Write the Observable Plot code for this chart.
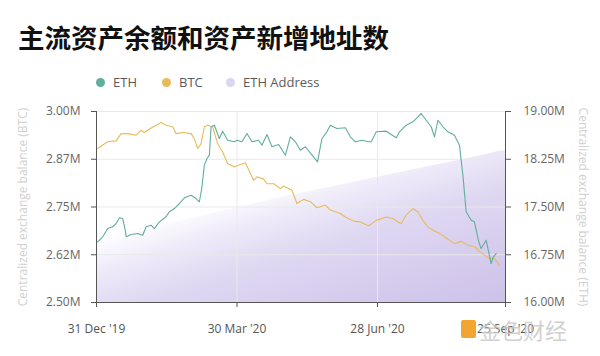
<!DOCTYPE html>
<html><head><meta charset="utf-8">
<script src="https://cdn.jsdelivr.net/npm/d3@7"></script>
<script src="https://cdn.jsdelivr.net/npm/@observablehq/plot@0.6"></script>
<style>
body{margin:0;background:#fff;width:600px;height:356px;overflow:hidden;position:relative;font-family:"Open Sans",sans-serif}
#title{position:absolute;left:18px;top:24px;font:bold 26.5px/26px "Noto Sans CJK SC",sans-serif;color:#111;white-space:nowrap}
#legend{position:absolute;top:74px;left:0;height:16px;font:13px/16px "Open Sans",sans-serif;color:#5a5a5a}
.item{position:absolute;top:0;white-space:nowrap}
.dot{display:inline-block;width:9px;height:9px;border-radius:50%;vertical-align:middle;margin-right:8px;position:relative;top:-1px}
#chart{position:absolute;left:0;top:95px}
#wm{position:absolute;left:461px;top:316px;white-space:nowrap;z-index:5}
#wm .logo{display:inline-block;width:15px;height:18px;background:#f2a531;border-radius:2px;vertical-align:middle;margin-right:3px}
#wm .txt{font:22px/26px "Noto Sans CJK SC",sans-serif;color:rgba(200,200,200,0.85);vertical-align:middle}
</style></head>
<body>
<div id="title">主流资产余额和资产新增地址数</div>
<div id="legend"></div>
<div id="chart"></div>
<div id="wm"><span class="logo"></span><span class="txt">金色财经</span></div>
<script>
// ---- data ----
const seriesNames = ["ETH", "BTC", "ETH Address"];
const seriesColors = ["#62ad9e", "#e8bb58", "#dcd5ef"];

// days after 31 Dec 2019
const btcDays = [0.8,7,12.6,15.8,20,25.4,28.6,30.7,35,41.4,44.6,48.8,51,55.2,60.6,62.7,64.8,67,69.1,71.2,74.4,77.6,80.8,84,88.3,90,95.4,100.7,102.8,107.1,109.2,113.5,117.8,119.9,125.2,128.4,132.7,137,141.2,146.6,149.8,156.2,159.4,164.7,169,174.3,179.2,185.6,189.9,193.1,195.2,198.4,202.7,205.9,209.1,212.3,216.5,219.7,224,229.3,233.6,237.9,242.1,245.3,248.5,251.7,254.9,258.1];
const btcValues = [2.903,2.921,2.923,2.942,2.942,2.938,2.951,2.945,2.957,2.971,2.964,2.960,2.942,2.945,2.942,2.929,2.903,2.916,2.960,2.964,2.960,2.916,2.894,2.864,2.855,2.858,2.866,2.820,2.829,2.823,2.811,2.811,2.798,2.805,2.794,2.759,2.770,2.764,2.748,2.755,2.742,2.733,2.724,2.713,2.711,2.701,2.715,2.724,2.720,2.711,2.707,2.729,2.746,2.737,2.715,2.698,2.687,2.681,2.669,2.654,2.660,2.650,2.646,2.634,2.624,2.615,2.615,2.598];

const ethDays = [0.8,4,7.2,10.4,12.6,14.7,16.8,18.4,19,22.2,26.4,29.6,31.8,35,37.1,40.3,44.6,46.7,49.9,53.1,56.3,60.6,63.8,65.9,67.4,69.1,70.8,72.3,73.4,75.5,78.7,80.8,84,88.3,90,93.2,96.4,99.6,103.9,106,109.2,112.4,116.7,121,124.2,127.4,130.6,133.8,138.1,141.6,144.4,147.6,149.8,154,159.4,162.6,165.8,170,174.3,176,179.2,185.6,192,194.1,198.4,202.7,205.9,208,211.2,214.4,216.5,218.7,221.9,225.1,229.3,232.5,234.7,236.8,240,242.1,244.9,246.4,249.6,252.8,253.9,256];
const ethValues = [16.953,17.032,17.162,17.189,17.241,17.330,17.319,17.136,17.032,17.068,17.084,17.057,17.189,17.214,17.162,17.267,17.346,17.425,17.476,17.555,17.644,17.685,17.633,17.582,17.791,18.157,18.262,18.314,18.760,18.785,18.576,18.691,18.549,18.524,18.549,18.524,18.654,18.524,18.549,18.471,18.639,18.446,18.482,18.314,18.603,18.524,18.392,18.446,18.314,18.210,18.576,18.681,18.785,18.733,18.744,18.603,18.524,18.549,18.524,18.524,18.681,18.691,18.587,18.681,18.785,18.838,18.917,18.969,18.863,18.760,18.603,18.863,18.760,18.681,18.628,18.471,18.000,17.425,17.293,17.268,16.953,16.848,16.979,16.612,16.702,16.770];

// ETH address count (millions, hidden axis)
const addrDays = [0,31,60,91,121,152,182,213,244,258,262];
const addrValues = [86.8,91.4,95.2,99.8,104.4,108.6,112.8,117.0,121.1,123.3,123.6];

const xTickDays = [0, 90, 180, 262];
const xTickLabels = ["31 Dec '19", "30 Mar '20", "28 Jun '20", "25 Sep '20"];
const btcTicks = [2.5, 2.625, 2.75, 2.875, 3.0];
const btcTickLabels = ["2.50M", "2.62M", "2.75M", "2.87M", "3.00M"];
const ethTickLabels = ["16.00M", "16.75M", "17.50M", "18.25M", "19.00M"];
const leftTitle = "Centralized exchange balance (BTC)";
const rightTitle = "Centralized exchange balance (ETH)";

// ---- scales mapping ----
const yMin = 2.5, yMax = 3.0, ethMin = 16, ethMax = 19, addrMin = 60, addrMax = 140;
const startMs = Date.UTC(2019, 11, 31);
const day = d => new Date(startMs + d * 86400000);
const ethToY = v => yMin + (v - ethMin) / (ethMax - ethMin) * (yMax - yMin);
const addrToY = v => yMin + (v - addrMin) / (addrMax - addrMin) * (yMax - yMin);

const btcData = btcDays.map((d, i) => ({date: day(d), v: btcValues[i]}));
const ethData = ethDays.map((d, i) => ({date: day(d), v: ethToY(ethValues[i])}));
const addrData = addrDays.map((d, i) => ({date: day(d), v: addrToY(addrValues[i])}));

const xLabelMap = new Map(xTickDays.map((d, i) => [day(d).getTime(), xTickLabels[i]]));
const leftMap = new Map(btcTicks.map((t, i) => [t, btcTickLabels[i]]));
const rightMap = new Map(btcTicks.map((t, i) => [t, ethTickLabels[i]]));

// legend
const legend = document.getElementById("legend");
const legendLeft = [96, 162, 226];
seriesNames.forEach((n, i) => {
  const el = document.createElement("div");
  el.className = "item";
  el.style.left = legendLeft[i] + "px";
  el.innerHTML = `<span class="dot" style="background:${seriesColors[i]}"></span>${n}`;
  legend.appendChild(el);
});

const chart = Plot.plot({
  width: 600, height: 261,
  marginTop: 16, marginBottom: 54, marginLeft: 96, marginRight: 95,
  style: {fontFamily: "'Open Sans', sans-serif", fontSize: "12px", background: "transparent", overflow: "visible"},
  x: {type: "utc", domain: [day(0), day(262)]},
  y: {domain: [yMin, yMax]},
  marks: [
    Plot.areaY(addrData, {x: "date", y1: yMin, y2: "v", fill: "url(#addrGrad)"}),
    Plot.gridY(btcTicks, {stroke: "#e9e9e9", strokeOpacity: 1}),
    Plot.gridX(xTickDays.map(day), {stroke: "#e9e9e9", strokeOpacity: 1}),
    Plot.lineY(btcData, {x: "date", y: "v", stroke: seriesColors[1], strokeWidth: 1.1}),
    Plot.lineY(ethData, {x: "date", y: "v", stroke: seriesColors[0], strokeWidth: 1.1}),
    Plot.ruleX([day(0)], {stroke: "#555"}),
    Plot.ruleX([day(262)], {stroke: "#555"}),
    Plot.ruleY([yMin], {stroke: "#555"}),
    Plot.axisY(btcTicks, {anchor: "left", tickSize: 5, tickPadding: 11, tickFormat: d => leftMap.get(d), stroke: "#555", fill: "#666", label: null}),
    Plot.axisY(btcTicks, {anchor: "right", tickSize: 5, tickPadding: 13, tickFormat: d => rightMap.get(d), stroke: "#555", fill: "#666", label: null}),
    Plot.axisX(xTickDays.map(day), {anchor: "bottom", tickSize: 5, tickPadding: 17, tickFormat: d => xLabelMap.get(d.getTime()), stroke: "#555", fill: "#555", label: null}),
    Plot.text([leftTitle], {frameAnchor: "left", dx: -73, rotate: -90, textAnchor: "middle", fill: "#d0d0d0", fontSize: 12}),
    Plot.text([rightTitle], {frameAnchor: "right", dx: 77, rotate: 90, textAnchor: "middle", fill: "#d0d0d0", fontSize: 12})
  ]
});

const grad = d3.select(chart).insert("defs", ":first-child")
  .append("linearGradient")
  .attr("id", "addrGrad")
  .attr("gradientUnits", "userSpaceOnUse")
  .attr("x1", 96).attr("y1", 143).attr("x2", 151).attr("y2", 318);
[[0, "#ffffff"], [0.18, "#eeeaf9"], [0.4, "#dfd8f2"], [1, "#cdc1e9"]].forEach(([o, c]) =>
  grad.append("stop").attr("offset", o).attr("stop-color", c));

document.getElementById("chart").appendChild(chart);
</script>
</body></html>
